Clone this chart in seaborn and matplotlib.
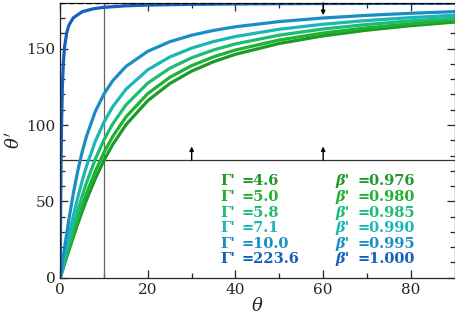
import numpy as np
import pandas as pd
import matplotlib
matplotlib.use('Agg')
import matplotlib.pyplot as plt
import seaborn as sns

# values (theta in deg, theta' in deg)
theta_a = [0, 1, 2, 3, 4, 5, 6, 8, 10, 12, 15, 20, 25, 30, 35, 40, 50, 60, 70, 80, 90]
g46 = [0, 9.06, 18.0, 26.73, 35.16, 43.22, 50.87, 64.79, 76.90, 87.29, 100.14, 115.99, 127.14, 135.29, 141.47, 146.31, 153.40, 158.39, 162.11, 165.04, 167.42]
g50 = [0, 9.93, 19.71, 29.21, 38.32, 46.96, 55.08, 69.66, 82.08, 92.57, 105.28, 120.63, 131.22, 138.88, 144.64, 149.13, 155.67, 160.25, 163.66, 166.34, 168.52]
g58 = [0, 11.46, 22.70, 33.52, 43.76, 53.32, 62.15, 77.61, 90.35, 100.80, 113.11, 127.50, 137.17, 144.04, 149.16, 153.13, 158.87, 162.87, 165.84, 168.17, 170.06]
g71 = [0, 14.04, 27.67, 40.56, 52.46, 63.27, 72.96, 89.23, 101.98, 112.02, 123.41, 136.21, 144.54, 150.37, 154.66, 157.96, 162.72, 166.00, 168.44, 170.34, 171.89]
g100 = [0, 19.77, 38.43, 55.21, 69.78, 82.17, 92.61, 108.79, 120.43, 129.05, 138.35, 148.29, 154.54, 158.83, 161.95, 164.33, 167.74, 170.09, 171.82, 173.17, 174.27]
theta_b = [0, 0.05, 0.1, 0.2, 0.3, 0.5, 0.75, 1, 1.5, 2, 3, 5, 7.5, 10, 15, 20, 30, 40, 50, 60, 70, 80, 90]
g2236 = [0, 22.08, 42.63, 75.94, 99.00, 125.73, 142.28, 151.26, 160.61, 165.40, 170.24, 174.14, 176.09, 177.07, 178.05, 178.55, 179.04, 179.30, 179.45, 179.56, 179.63, 179.69, 179.74]

gammas = ['4.6', '5.0', '5.8', '7.1', '10.0', '223.6']
betas = ['0.976', '0.980', '0.985', '0.990', '0.995', '1.000']
colors = ['#1c9a28', '#1fb232', '#1cbc72', '#1cb6b6', '#1a8ec4', '#1560bc']

theta_ref = 10
thetap_ref = 76.9
arrow_up_x = [30, 60]
arrow_down_x = 60

frames = []
for g, ys in zip(gammas[:5], [g46, g50, g58, g71, g100]):
    frames.append(pd.DataFrame({'theta': theta_a, 'thetap': ys, 'gamma': g}))
frames.append(pd.DataFrame({'theta': theta_b, 'thetap': g2236, 'gamma': gammas[5]}))
df = pd.concat(frames, ignore_index=True)

sns.set_style('ticks')
plt.rcParams['font.family'] = ['DejaVu Serif']
plt.rcParams['mathtext.fontset'] = 'dejavuserif'

fig, ax = plt.subplots(figsize=(4.56, 3.17), dpi=100)
fig.subplots_adjust(left=0.132, right=0.997, bottom=0.124, top=0.991)

sns.lineplot(data=df, x='theta', y='thetap', hue='gamma', palette=colors,
             hue_order=gammas, sort=False, estimator=None, lw=2.3, legend=False, ax=ax)

ax.axvline(theta_ref, color='#666666', lw=0.9, zorder=1)
ax.axhline(thetap_ref, color='#333333', lw=0.9, zorder=1)
ax.axhline(180, color='black', lw=0.9, ls=(0, (4, 3)), zorder=5)

for x in arrow_up_x:
    ax.annotate('', xy=(x, thetap_ref + 9), xytext=(x, thetap_ref),
                arrowprops=dict(arrowstyle='-|>', color='black', lw=1, mutation_scale=6, shrinkA=0, shrinkB=0))
ax.annotate('', xy=(arrow_down_x, 172), xytext=(arrow_down_x, 180),
            arrowprops=dict(arrowstyle='-|>', color='black', lw=1, mutation_scale=6, shrinkA=0, shrinkB=0))

# text legend, two columns (symbol and value drawn separately)
for i, (g, b, c) in enumerate(zip(gammas, betas, colors)):
    y = 63 - i * 10.2
    kw = dict(color=c, fontsize=10.5, fontweight='bold', va='center')
    ax.text(36.5, y, "Γ'", **kw)
    ax.text(41.3, y, "=" + g, **kw)
    ax.text(62.7, y, "β'", fontstyle='italic', **kw)
    ax.text(67.8, y, "=" + b, **kw)

ax.set_xlim(0, 90)
ax.set_ylim(0, 180)
ax.set_xticks([0, 20, 40, 60, 80])
ax.set_xticks(np.arange(10, 90, 20), minor=True)
ax.set_yticks([0, 50, 100, 150])
ax.set_yticks([v for v in range(10, 180, 10) if v % 50], minor=True)
ax.tick_params(which='both', direction='in', top=True, right=True, labelsize=11, width=0.9)
ax.tick_params(which='major', length=6)
ax.tick_params(which='minor', length=3.5)
for s in ax.spines.values():
    s.set_linewidth(0.9)
ax.set_xlabel(r'$\theta$', fontsize=13, labelpad=0)
ax.set_ylabel(r"$\theta'$", fontsize=13, labelpad=2)

fig.savefig('out.png', dpi=100)
